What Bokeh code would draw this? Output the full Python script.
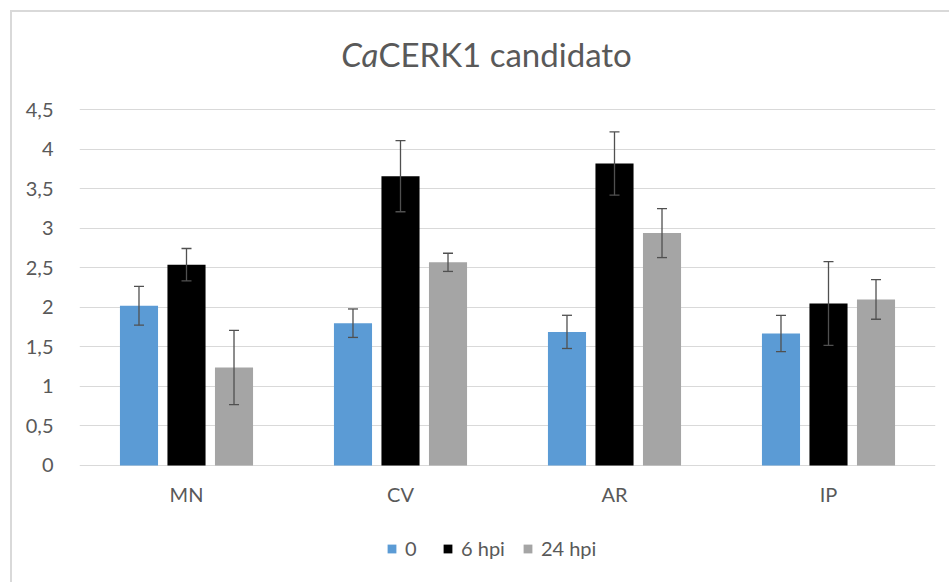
from bokeh.plotting import figure
from bokeh.models import (ColumnDataSource, FactorRange, Range1d, FixedTicker,
                          Whisker, TeeHead, Legend, LegendItem)
from bokeh.core.properties import value
from bokeh.transform import dodge
from bokeh.embed import file_html
from bokeh.resources import INLINE

# ---- data ----
categories = ["MN", "CV", "AR", "IP"]
series_names = ["0", "6 hpi", "24 hpi"]
vals_0 = [2.02, 1.80, 1.69, 1.67]
err_0 = [0.245, 0.18, 0.21, 0.23]
vals_6 = [2.54, 3.66, 3.82, 2.05]
err_6 = [0.205, 0.45, 0.40, 0.53]
vals_24 = [1.24, 2.57, 2.94, 2.10]
err_24 = [0.47, 0.115, 0.31, 0.25]
y_ticks = [0, 0.5, 1, 1.5, 2, 2.5, 3, 3.5, 4, 4.5]
y_tick_labels = ["0", "0,5", "1", "1,5", "2", "2,5", "3", "3,5", "4", "4,5"]
title_italic = "Ca"
title_rest = "CERK1 candidato"

colors = ["#5B9BD5", "#000000", "#A5A5A5"]
offsets = [-0.222, 0.0, 0.222]
FONT = "Lato"
TXT = "#595959"

# value axis spans beyond 0..4.5 only to leave room for title and legend (no ticks there)
p = figure(x_range=FactorRange(*categories), y_range=Range1d(-1.329, 5.731),
           width=945, height=580, output_backend="svg", toolbar_location=None,
           min_border_left=67, min_border_right=22, min_border_top=0,
           min_border_bottom=22)
p.styles = {"border-left": "2px solid #D9D9D9", "border-top": "2px solid #D9D9D9",
            "margin-left": "10px", "margin-top": "10px", "vertical-align": "top"}
p.outline_line_color = None
p.xgrid.grid_line_color = None
p.ygrid.grid_line_color = "#D9D9D9"
p.ygrid.grid_line_width = 1
p.yaxis.ticker = FixedTicker(ticks=y_ticks)
p.yaxis.major_label_overrides = {tk: lb for tk, lb in zip(y_ticks, y_tick_labels)}
p.yaxis.axis_line_color = None
p.yaxis.major_tick_line_color = None
p.yaxis.minor_tick_line_color = None
p.yaxis.major_label_standoff = 20
p.xaxis.axis_line_color = None
p.xaxis.major_tick_line_color = None
p.xaxis.minor_tick_line_color = None
p.xaxis.major_label_standoff = -95
for ax in (p.xaxis, p.yaxis):
    ax.major_label_text_font = FONT
    ax.major_label_text_font_size = "20px"
    ax.major_label_text_color = TXT

series_vals = [vals_0, vals_6, vals_24]
series_errs = [err_0, err_6, err_24]
items = []
for name, vals, errs, col, off in zip(series_names, series_vals, series_errs, colors, offsets):
    src = ColumnDataSource(dict(cat=categories, v=vals,
                                upper=[a + b for a, b in zip(vals, errs)],
                                lower=[a - b for a, b in zip(vals, errs)]))
    r = p.vbar(x=dodge("cat", off, range=p.x_range), top="v", bottom=0, width=0.178,
               source=src, fill_color=col, line_color=None)
    w = Whisker(base=dodge("cat", off, range=p.x_range), upper="upper", lower="lower",
                source=src, line_color="#505050", line_width=1.3, level="overlay",
                upper_head=TeeHead(size=10, line_color="#505050", line_width=1.3),
                lower_head=TeeHead(size=10, line_color="#505050", line_width=1.3))
    p.add_layout(w)
    items.append(LegendItem(label=name, renderers=[r]))

legend = Legend(items=items, location=(307, 10), orientation="horizontal",
                glyph_width=11, glyph_height=11, label_text_font=FONT,
                label_text_font_size="20px", label_text_color=TXT,
                spacing=17, label_standoff=8, padding=0, margin=0,
                border_line_color=None, background_fill_alpha=0)
p.add_layout(legend)

# title: italic species prefix + upright gene name, joined at one point
p.text(x=[1.397], y=[5.212], text=[title_italic], text_font=value(FONT),
       text_font_style="italic", text_font_size="33px", text_color=TXT,
       text_align="right", text_baseline="alphabetic")
p.text(x=[1.397], y=[5.212], text=[title_rest], text_font=value(FONT),
       text_font_size="33px", text_color=TXT,
       text_align="left", text_baseline="alphabetic")

open("out.html", "w").write(file_html(p, INLINE))
